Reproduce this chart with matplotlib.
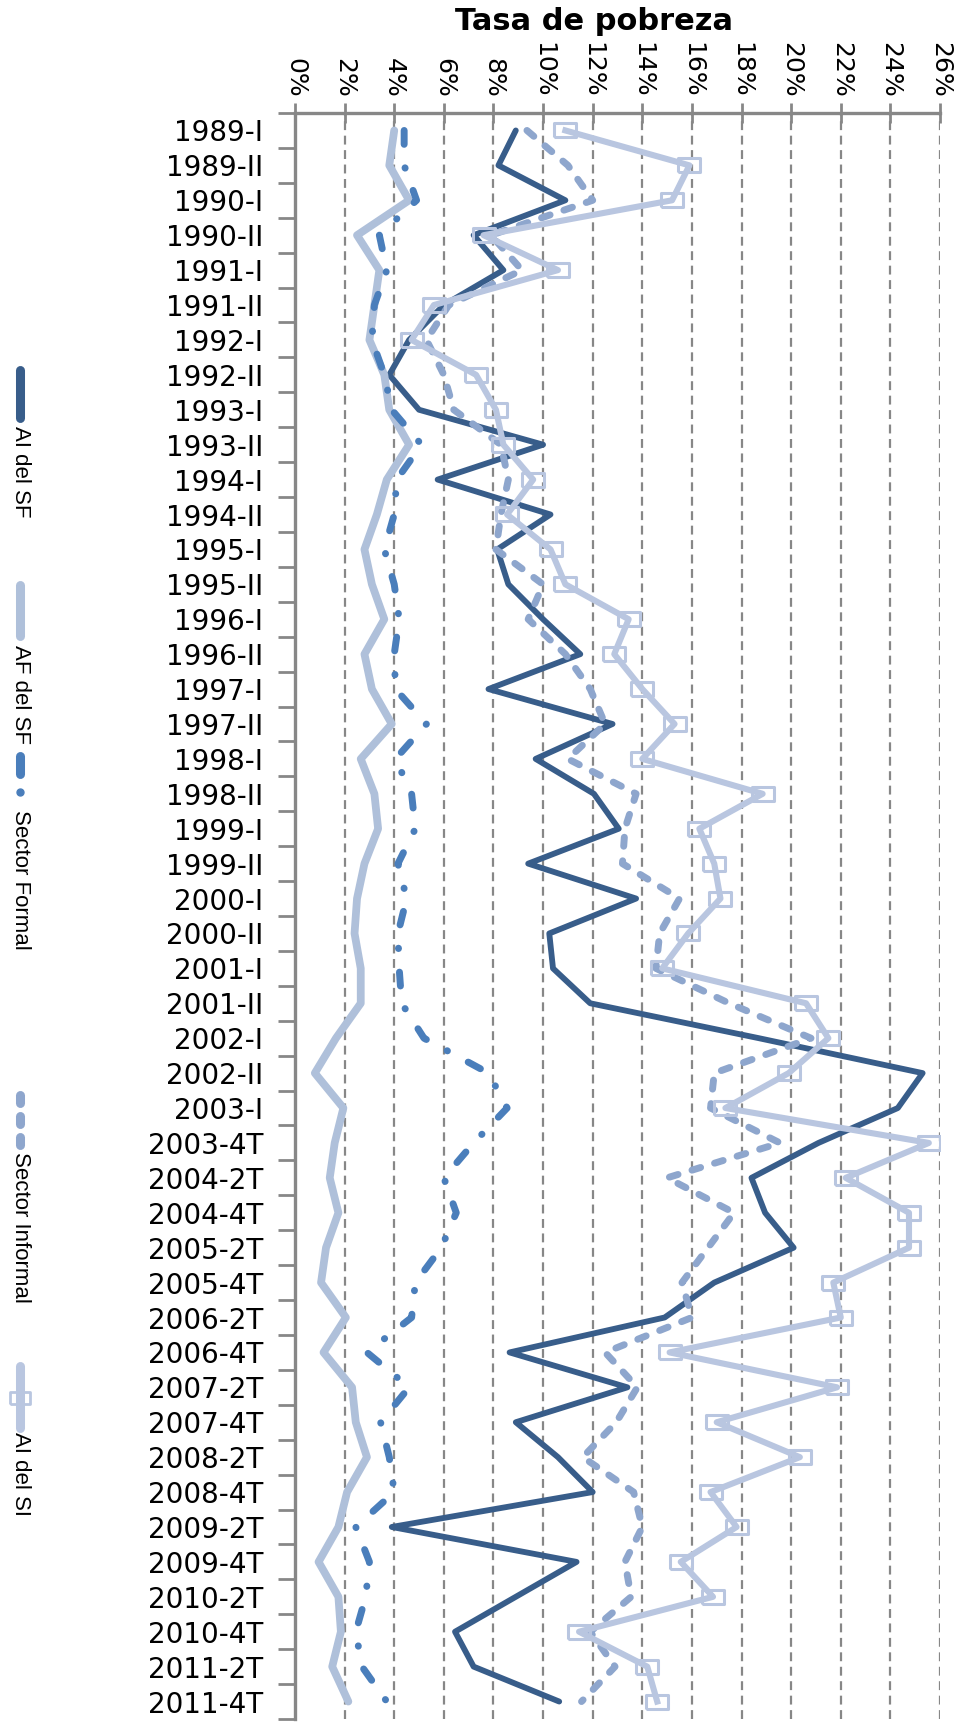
import numpy as np
import matplotlib
matplotlib.use('Agg')
import matplotlib.pyplot as plt
from matplotlib.lines import Line2D

# categories (top to bottom)
periods = ['1989-I', '1989-II', '1990-I', '1990-II', '1991-I', '1991-II',
           '1992-I', '1992-II', '1993-I', '1993-II', '1994-I', '1994-II',
           '1995-I', '1995-II', '1996-I', '1996-II', '1997-I', '1997-II',
           '1998-I', '1998-II', '1999-I', '1999-II', '2000-I', '2000-II',
           '2001-I', '2001-II', '2002-I', '2002-II', '2003-I', '2003-4T',
           '2004-2T', '2004-4T', '2005-2T', '2005-4T', '2006-2T', '2006-4T',
           '2007-2T', '2007-4T', '2008-2T', '2008-4T', '2009-2T', '2009-4T',
           '2010-2T', '2010-4T', '2011-2T', '2011-4T']

# poverty rates (%)
ai_sf = [8.9, 8.2, 10.9, 7.2, 8.4, 6.0, 4.6, 3.8, 5.0, 10.0, 5.75, 10.3,
         8.15, 8.6, 10.0, 11.5, 7.8, 12.8, 9.7, 12.05, 13.05, 9.4, 13.75, 10.25,
         10.4, 11.9, 18.7, 25.3, 24.3, 21.1, 18.4, 18.95, 20.1, 16.9, 14.9, 8.65,
         13.4, 8.9, 10.6, 12.0, 3.9, 11.35, 8.9, 6.45, 7.2, 10.65]
af_sf = [4.0, 3.8, 4.6, 2.5, 3.4, 3.2, 3.0, 3.6, 3.8, 4.6, 3.7, 3.3,
         2.8, 3.1, 3.6, 2.8, 3.1, 3.9, 2.65, 3.2, 3.35, 2.8, 2.5, 2.4,
         2.65, 2.65, 1.65, 0.8, 1.95, 1.6, 1.4, 1.75, 1.25, 1.05, 2.05, 1.15,
         2.3, 2.45, 2.9, 2.1, 1.75, 0.95, 1.75, 1.85, 1.5, 2.15]
formal = [4.4, 4.4, 4.9, 3.4, 3.7, 3.2, 3.1, 3.6, 3.9, 5.1, 4.1, 4.0,
          3.6, 4.0, 4.2, 4.0, 4.05, 5.3, 4.05, 4.7, 4.85, 4.15, 4.5, 4.15,
          4.2, 4.3, 5.2, 7.8, 8.55, 7.2, 6.0, 6.5, 5.9, 4.85, 4.7, 2.9,
          4.6, 3.45, 3.8, 4.0, 2.45, 3.0, 2.85, 2.45, 2.7, 3.7]
informal = [9.35, 11.0, 12.0, 7.9, 9.15, 6.2, 5.3, 6.0, 6.4, 8.3, 8.6, 8.3,
            8.1, 10.0, 9.4, 10.9, 11.9, 12.5, 11.0, 13.75, 13.3, 13.2, 15.5, 14.7,
            14.55, 17.5, 20.8, 16.9, 16.75, 19.55, 15.0, 17.7, 16.65, 15.6, 16.0, 12.5,
            13.8, 12.95, 11.6, 13.65, 14.0, 13.3, 13.55, 11.9, 12.9, 11.55]
ai_si = [10.9, 15.9, 15.2, 7.6, 10.6, 5.6, 4.7, 7.3, 8.1, 8.4, 9.6, 8.55,
         10.3, 10.9, 13.45, 12.87, 14.0, 15.3, 14.0, 18.85, 16.3, 16.9, 17.15, 15.85,
         14.8, 20.6, 21.5, 19.9, 17.35, 25.55, 22.2, 24.75, 24.75, 21.7, 22.0, 15.1,
         21.85, 17.0, 20.35, 16.75, 17.8, 15.55, 16.85, 11.45, 14.2, 14.6]

x_ticks = list(range(0, 27, 2))

c_dark = '#385D8A'
c_af = '#AFC0DA'
c_formal = '#4A7EBB'
c_inf = '#8EA6CD'
c_aisi = '#B9C6E0'
grey = '#878787'
rect = [(-1.5, -1), (1.5, -1), (1.5, 1), (-1.5, 1), (-1.5, -1)]

W, H = 966, 1726
fig = plt.figure(figsize=(W / 100, H / 100), dpi=100)
ax = fig.add_axes([295 / W, (H - 1719) / H, (940 - 295) / W, (1719 - 113) / H])

y = np.arange(len(periods))
ax.plot(ai_sf, y, color=c_dark, lw=4.2, solid_joinstyle='round', solid_capstyle='round', zorder=3)
ax.plot(af_sf, y, color=c_af, lw=5.6, solid_joinstyle='round', solid_capstyle='round', zorder=3)
ax.plot(formal, y, color=c_formal, lw=5, linestyle=(0, (2.0, 3.4, 0.05, 3.4)),
        dash_capstyle='round', dash_joinstyle='round', zorder=3)
ax.plot(informal, y, color=c_inf, lw=5, linestyle=(0, (1.3, 2.1)),
        dash_capstyle='round', dash_joinstyle='round', zorder=3)
ax.plot(ai_si, y, color=c_aisi, lw=4.4, marker=rect, ms=16, mfc='none', mec=c_aisi,
        mew=2.2, solid_joinstyle='round', zorder=3)

ax.set_xlim(0, 26)
ax.set_ylim(len(periods) - 0.5, -0.5)
ax.xaxis.tick_top()
ax.set_xticks(x_ticks)
ax.set_xticklabels([f'{t}%' for t in x_ticks], rotation=-90, fontsize=18)
ax.tick_params(axis='x', direction='inout', length=14, width=2, color=grey, pad=4)
ax.grid(axis='x', color=grey, linestyle=(0, (4, 2.5)), linewidth=1.6, zorder=1)

ax.set_yticks(y)
ax.set_yticklabels(periods, fontsize=20)
ax.set_yticks(np.arange(-0.5, len(periods), 1), minor=True)
ax.tick_params(axis='y', which='major', length=0, pad=23)
ax.tick_params(axis='y', which='minor', direction='out', length=12, width=2, color=grey)

for s in ['right', 'bottom']:
    ax.spines[s].set_visible(False)
for s in ['left', 'top']:
    ax.spines[s].set_color(grey)
    ax.spines[s].set_linewidth(2.4)

fig.text(594 / W, 1 - 21 / H, 'Tasa de pobreza', ha='center', va='center',
         fontsize=22, fontweight='bold')

# vertical legend on the left
def fx(px):
    return px / W

def fy(py):
    return 1 - py / H

lx = fx(20)
leg_font = ['Liberation Sans', 'DejaVu Sans']
fig.add_artist(Line2D([lx, lx], [fy(370), fy(418)], color=c_dark, lw=6.5, solid_capstyle='round'))
fig.text(lx, fy(426), 'AI del SF', rotation=-90, ha='center', va='top', fontsize=16, family=leg_font)

fig.add_artist(Line2D([lx, lx], [fy(585), fy(636)], color=c_af, lw=6.5, solid_capstyle='round'))
fig.text(lx, fy(645), 'AF del SF', rotation=-90, ha='center', va='top', fontsize=16, family=leg_font)

fig.add_artist(Line2D([lx, lx], [fy(756), fy(774)], color=c_formal, lw=6.5, solid_capstyle='round'))
fig.add_artist(Line2D([lx], [fy(792)], color=c_formal, marker='o', ms=5, lw=0))
fig.text(lx, fy(810), 'Sector Formal', rotation=-90, ha='center', va='top', fontsize=16, family=leg_font)

for py in (1099, 1120, 1141):
    fig.add_artist(Line2D([lx, lx], [fy(py - 4), fy(py + 4)], color=c_inf, lw=6.5, solid_capstyle='round'))
fig.text(lx, fy(1152), 'Sector Informal', rotation=-90, ha='center', va='top', fontsize=16, family=leg_font)

fig.add_artist(Line2D([lx, lx], [fy(1366), fy(1428)], color=c_aisi, lw=6.5, solid_capstyle='round'))
fig.add_artist(Line2D([lx], [fy(1398)], color=c_aisi, marker=rect, ms=14, mfc='none', mew=2, lw=0))
fig.text(lx, fy(1432), 'AI del SI', rotation=-90, ha='center', va='top', fontsize=16, family=leg_font)

fig.savefig('out.png', dpi=100)
